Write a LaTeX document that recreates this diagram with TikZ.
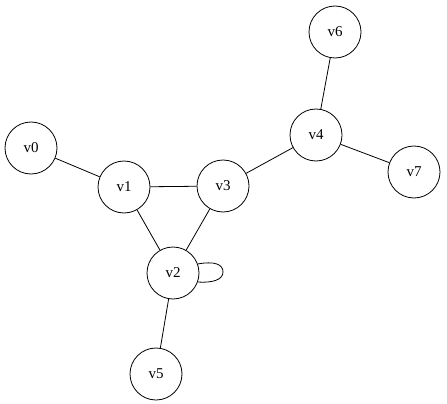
\documentclass[tikz,border=0pt]{standalone}
\usepackage{fontspec}
\setmainfont{Liberation Serif}
\begin{document}
\begin{tikzpicture}[x=1pt,y=-1pt,
  vert/.style={draw,circle,minimum size=52pt,inner sep=0pt,font=\fontsize{15}{17}\selectfont,line width=0.8pt},
  edge/.style={line width=0.8pt}]
\useasboundingbox (0,0) rectangle (447,404);
\node[vert] (v0) at (31,148) {v0};
\node[vert] (v1) at (124,187) {v1};
\node[vert] (v3) at (223,186) {v3};
\node[vert] (v2) at (173,273) {v2};
\node[vert] (v4) at (316,135) {v4};
\node[vert] (v6) at (335,32) {v6};
\node[vert] (v7) at (414,172) {v7};
\node[vert] (v5) at (156,374) {v5};
\draw[edge] (v0) -- (v1);
\draw[edge] (v1) -- (v3);
\draw[edge] (v1) -- (v2);
\draw[edge] (v3) -- (v2);
\draw[edge] (v3) -- (v4);
\draw[edge] (v4) -- (v6);
\draw[edge] (v4) -- (v7);
\draw[edge] (v2) -- (v5);
\draw[edge] (v2.20) .. controls (214,261) and (223,264) .. (223,272) .. controls (223,280) and (212,283) .. (v2.-20);
\end{tikzpicture}
\end{document}
